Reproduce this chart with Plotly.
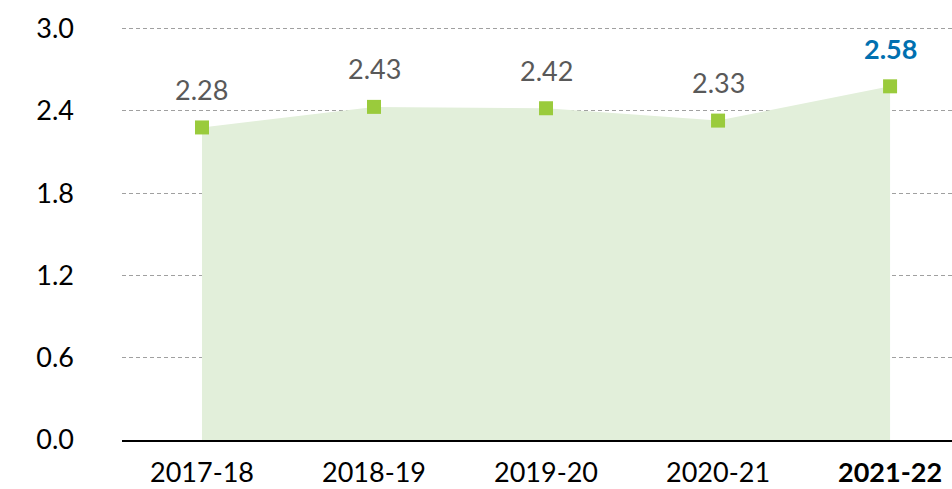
import plotly.graph_objects as go

years = ["2017-18", "2018-19", "2019-20", "2020-21", "2021-22"]
values = [2.28, 2.43, 2.42, 2.33, 2.58]
y_ticks = [0.0, 0.6, 1.2, 1.8, 2.4, 3.0]

labels = [f"{v:.2f}" for v in values]
labels[-1] = f"<b>{labels[-1]}</b>"
label_colors = ["#595959"] * (len(values) - 1) + ["#0070B0"]
tick_text = years[:-1] + [f"<b>{years[-1]}</b>"]

FONT = "Lato"

fig = go.Figure()
fig.add_trace(go.Scatter(
    x=list(range(len(years))), y=values,
    mode="markers",
    fill="tozeroy", fillcolor="#E2EFDA",
    line=dict(width=0, color="rgba(0,0,0,0)"),
    marker=dict(symbol="square", size=14, color="#9ACB3C"),
    hoverinfo="skip",
    cliponaxis=False,
))

for i, (lab, v, c) in enumerate(zip(labels, values, label_colors)):
    fig.add_annotation(
        x=i, y=v, text=lab, showarrow=False,
        yanchor="middle", yshift=38,
        font=dict(family=FONT, size=27, color=c),
    )

fig.update_layout(
    width=952, height=489,
    margin=dict(l=122, r=0, t=26, b=49, autoexpand=False),
    paper_bgcolor="white", plot_bgcolor="white",
    showlegend=False,
    font=dict(family=FONT, color="black"),
    xaxis=dict(
        range=[-0.465, 4.36], automargin=False,
        tickmode="array", tickvals=list(range(len(years))), ticktext=tick_text,
        tickfont=dict(family=FONT, size=27, color="black"),
        showgrid=False, zeroline=False,
        showline=True, linecolor="black", linewidth=1.5,
        ticks="", ticklabelstandoff=8,
    ),
    yaxis=dict(
        range=[0, 3.02], automargin=False,
        tickmode="array", tickvals=y_ticks, ticktext=[f"{t:.1f}" for t in y_ticks],
        tickfont=dict(family=FONT, size=27, color="black"),
        showgrid=True, gridcolor="#A0A0A0", griddash="4px,3px", gridwidth=1,
        zeroline=False, showline=False, ticks="",
        ticklabelstandoff=47,
    ),
)

fig.write_html(
    "out.html",
    config={"displayModeBar": False},
    post_script="document.body.style.margin='0';document.body.style.overflow='hidden';",
)
